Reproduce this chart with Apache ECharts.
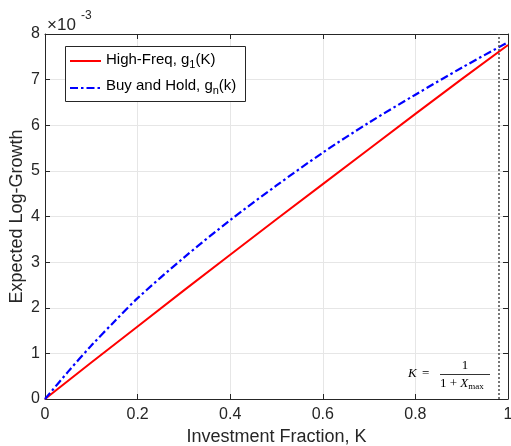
<!DOCTYPE html>
<html>
<head>
<meta charset="utf-8">
<script src="https://cdn.jsdelivr.net/npm/echarts@6/dist/echarts.min.js"></script>
<style>
html,body{margin:0;padding:0;background:#fff;}
#chart{width:511px;height:446px;}
</style>
</head>
<body>
<div id="chart"></div>
<script>
// ---- data (values in units of 1e-3) ----
var highFreqK = [0, 0.1, 0.2, 0.3, 0.4, 0.5, 0.6, 0.7, 0.8, 0.9, 1.0];
var highFreq  = [0, 0.80, 1.59, 2.38, 3.16, 3.94, 4.71, 5.48, 6.25, 7.01, 7.76];
var buyHoldK  = [0, 0.05, 0.1, 0.15, 0.2, 0.3, 0.4, 0.5, 0.6, 0.7, 0.8, 0.9, 1.0];
var buyHold   = [0, 0.60, 1.17, 1.70, 2.21, 3.10, 3.92, 4.68, 5.40, 6.06, 6.67, 7.26, 7.82];
var kMaxLine  = 0.98;
var xTicks = {min: 0, max: 1, interval: 0.2};
var yTicks = {min: 0, max: 8, interval: 1};

var FONT = '"Liberation Sans", Arial, Helvetica, sans-serif';
var SERIF = '"Liberation Serif", "Times New Roman", serif';
var AX = '#262626';

function pairs(xs, ys){ return xs.map(function(x,i){ return [x, ys[i]]; }); }

var chart = echarts.init(document.getElementById('chart'), null, {renderer:'canvas'});

var baseAxis = {
  type: 'value',
  axisLine: {show: true, onZero: false, lineStyle: {color: AX, width: 1}},
  axisTick: {show: true, inside: true, length: 5, lineStyle: {color: AX, width: 1}},
};

var option = {
  animation: false,
  backgroundColor: '#fff',
  grid: {left: 45, right: 3, top: 34, bottom: 47, containLabel: false, outerBoundsMode: 'none'},
  xAxis: [
    Object.assign({}, baseAxis, {
      position: 'bottom', min: xTicks.min, max: xTicks.max, interval: xTicks.interval,
      axisLabel: {color: AX, fontSize: 16, fontFamily: FONT, margin: 8},
      splitLine: {show: true, lineStyle: {color: '#e6e6e6', width: 1}},
      name: 'Investment Fraction, K', nameLocation: 'middle', nameGap: 29, nameMoveOverlap: false,
      nameTextStyle: {color: AX, fontSize: 18, fontFamily: FONT}
    }),
    Object.assign({}, baseAxis, {
      position: 'top', min: xTicks.min, max: xTicks.max, interval: xTicks.interval,
      axisLabel: {show: false}, splitLine: {show: false}
    })
  ],
  yAxis: [
    Object.assign({}, baseAxis, {
      position: 'left', min: yTicks.min, max: yTicks.max, interval: yTicks.interval,
      axisLabel: {color: AX, fontSize: 16, fontFamily: FONT, margin: 5},
      splitLine: {show: true, lineStyle: {color: '#e6e6e6', width: 1}},
      name: 'Expected Log-Growth', nameLocation: 'middle', nameGap: 19, nameMoveOverlap: false,
      nameTextStyle: {color: AX, fontSize: 18, fontFamily: FONT}
    }),
    Object.assign({}, baseAxis, {
      position: 'right', min: yTicks.min, max: yTicks.max, interval: yTicks.interval,
      axisLabel: {show: false}, splitLine: {show: false}
    })
  ],
  series: [
    {
      name: 'High-Freq', type: 'line', xAxisIndex: 0, yAxisIndex: 0,
      data: pairs(highFreqK, highFreq), showSymbol: false, symbol: 'none',
      lineStyle: {color: '#ff0000', width: 2}, z: 3,
      markLine: {
        silent: true, symbol: ['none','none'], label: {show: false},
        lineStyle: {color: '#555', type: [2, 2], width: 1.6},
        data: [{xAxis: kMaxLine}]
      }
    },
    {
      name: 'Buy and Hold', type: 'line', xAxisIndex: 0, yAxisIndex: 0,
      data: pairs(buyHoldK, buyHold), showSymbol: false, symbol: 'none', smooth: 0.3,
      lineStyle: {color: '#0000ff', width: 2.2, type: [8, 3, 2.5, 3]}, z: 4
    }
  ],
  graphic: [
    // exponent
    {type: 'text', left: 47, top: 17, z: 10,
      style: {text: '×10', font: '17px ' + FONT, fill: AX}},
    {type: 'text', left: 81, top: 10, z: 10,
      style: {text: '-3', font: '12px ' + FONT, fill: AX}},
    // legend
    {type: 'rect', shape: {x: 65.5, y: 46.5, width: 180, height: 55}, z: 10,
      style: {fill: '#fff', stroke: AX, lineWidth: 1}},
    {type: 'line', shape: {x1: 70, y1: 61, x2: 101, y2: 61}, z: 11,
      style: {stroke: '#ff0000', lineWidth: 2}},
    {type: 'line', shape: {x1: 70, y1: 88, x2: 101, y2: 88}, z: 11,
      style: {stroke: '#0000ff', lineWidth: 2.2, lineDash: [8, 3, 2.5, 3]}},
    {type: 'text', x: 106, y: 60, z: 11,
      style: {text: '{t|High-Freq, g}{s|1}{t|(K)}', textVerticalAlign: 'middle',
        rich: {t: {fontSize: 15, fontFamily: FONT, fill: '#000', lineHeight: 20, verticalAlign: 'middle'},
               s: {fontSize: 11, fontFamily: FONT, fill: '#000', lineHeight: 11, verticalAlign: 'bottom'}}}},
    {type: 'text', x: 106, y: 86, z: 11,
      style: {text: '{t|Buy and Hold, g}{s|n}{t|(k)}', textVerticalAlign: 'middle',
        rich: {t: {fontSize: 15, fontFamily: FONT, fill: '#000', lineHeight: 20, verticalAlign: 'middle'},
               s: {fontSize: 11, fontFamily: FONT, fill: '#000', lineHeight: 11, verticalAlign: 'bottom'}}}},
    // annotation K = 1/(1+X_max)
    {type: 'text', x: 408, y: 374, z: 11,
      style: {text: '{i|K} {r|=}', textVerticalAlign: 'middle',
        rich: {i: {fontSize: 13, fontFamily: SERIF, fontStyle: 'italic', fill: '#000'},
               r: {fontSize: 13, fontFamily: SERIF, fill: '#000', padding: [0, 0, 0, 2]}}}},
    {type: 'text', x: 465, y: 366, z: 11,
      style: {text: '1', font: '13px ' + SERIF, fill: '#000', textAlign: 'center', textVerticalAlign: 'middle'}},
    {type: 'line', shape: {x1: 440, y1: 374.5, x2: 490, y2: 374.5}, z: 11,
      style: {stroke: '#000', lineWidth: 0.8}},
    {type: 'text', x: 440, y: 384, z: 11,
      style: {text: '{r|1 + }{i|X}{s|max}', textVerticalAlign: 'middle',
        rich: {r: {fontSize: 13, fontFamily: SERIF, fill: '#000', lineHeight: 14, verticalAlign: 'middle'},
               i: {fontSize: 13, fontFamily: SERIF, fontStyle: 'italic', fill: '#000', lineHeight: 14, verticalAlign: 'middle'},
               s: {fontSize: 9, fontFamily: SERIF, fill: '#000', lineHeight: 9, verticalAlign: 'bottom'}}}}
  ]
};
chart.setOption(option);
</script>
</body>
</html>
